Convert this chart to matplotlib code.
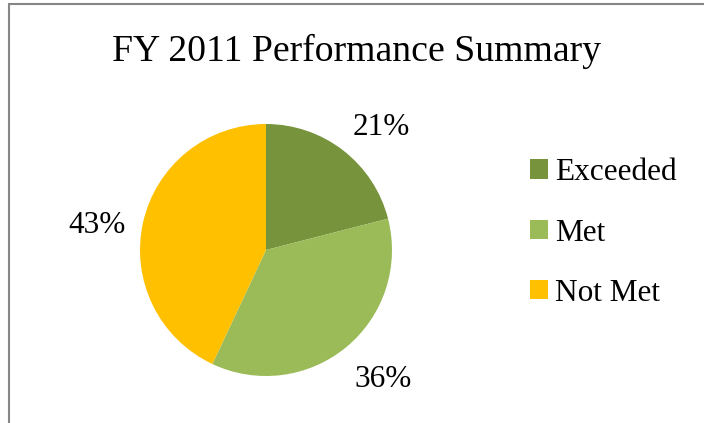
import matplotlib
matplotlib.use('Agg')
import matplotlib.pyplot as plt
from matplotlib.patches import Rectangle
import numpy as np

# data
categories = ['Exceeded', 'Met', 'Not Met']
shares = [21, 36, 43]
colors = ['#77933C', '#9BBB59', '#FFC000']

# where Excel put the percent labels (angle in degrees, distance in radii, baseline)
label_angles = [45, -49.4, 174.3]
label_dist = [1.29, 1.43, 1.35]

plt.rcParams['font.family'] = ['Liberation Serif', 'DejaVu Serif']

W, H = 704, 423
fig = plt.figure(figsize=(W / 100, H / 100), dpi=100)

# chart border (only top and left visible, rest runs off the image)
fig.patches.append(Rectangle((8.5 / W, -0.1), 1.2, (H - 4.5) / H + 0.1,
                             transform=fig.transFigure, fill=False,
                             edgecolor='#868686', linewidth=1.5))

# pie axes: centre (266, 250) px, radius 126 px
cx, cy, r = 266, 250, 126
ax = fig.add_axes([(cx - r) / W, (H - cy - r) / H, 2 * r / W, 2 * r / H])
wedges, _ = ax.pie(shares, colors=colors, startangle=90, counterclock=False,
                   radius=1.0, wedgeprops=dict(linewidth=0))
ax.set_xlim(-1, 1)
ax.set_ylim(-1, 1)
ax.set_aspect('equal')
ax.axis('off')

for s, ang, d in zip(shares, label_angles, label_dist):
    a = np.deg2rad(ang)
    ax.text(d * np.cos(a), d * np.sin(a), f'{s}%', ha='center', va='baseline',
            fontsize=22.5, clip_on=False)

fig.text(356 / W, 1 - 61 / H, 'FY 2011 Performance Summary', ha='center',
         va='baseline', fontsize=27.2)

fig.legend(wedges, categories, loc='center left',
           bbox_to_anchor=(530 / W, 1 - 233 / H), frameon=False,
           fontsize=22.5, handlelength=0.58, handleheight=0.58,
           handletextpad=0.22, labelspacing=1.0, borderpad=0,
           borderaxespad=0)

fig.savefig('out.png', dpi=100)
